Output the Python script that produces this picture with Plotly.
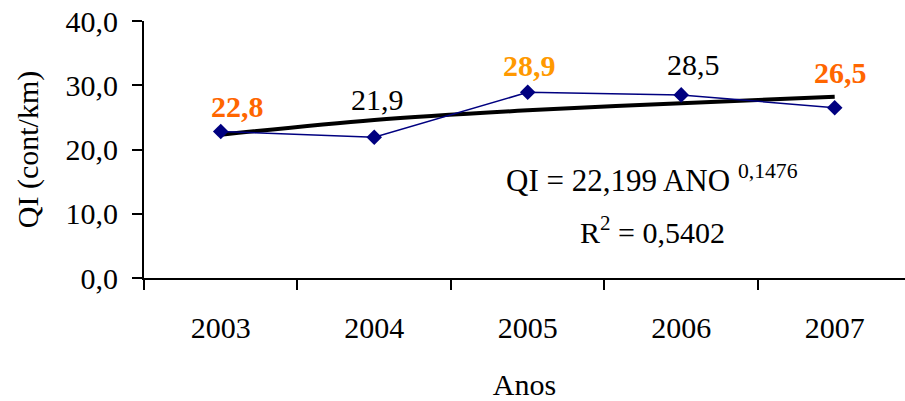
import plotly.graph_objects as go

years = ["2003", "2004", "2005", "2006", "2007"]
qi = [22.8, 21.9, 28.9, 28.5, 26.5]
trend = [22.3, 24.6, 26.1, 27.2, 28.2]
label_text = ["22,8", "21,9", "28,9", "28,5", "26,5"]
label_color = ["#FF6600", "#000000", "#FF9900", "#000000", "#FF6600"]
label_bold = [True, False, True, False, True]
label_dx = [17, 3, 2, 12, 6]
label_dy = [25, 38, 27, 30, 35]
y_ticks = [0, 10, 20, 30, 40]

FONT = "Times New Roman, Liberation Serif, serif"
FS = 30

fig = go.Figure()
fig.add_trace(go.Scatter(
    x=years, y=trend, mode="lines",
    line=dict(color="black", width=4, shape="spline"),
    hoverinfo="skip", showlegend=False))
fig.add_trace(go.Scatter(
    x=years, y=qi, mode="lines+markers",
    line=dict(color="#000080", width=1.5),
    marker=dict(symbol="diamond", size=12, color="#000080"),
    showlegend=False))

for i in range(len(years)):
    t = label_text[i]
    if label_bold[i]:
        t = "<b>" + t + "</b>"
    fig.add_annotation(x=i, y=qi[i], xref="x", yref="y", text=t, showarrow=False,
                       xanchor="center", yanchor="middle",
                       xshift=label_dx[i], yshift=label_dy[i],
                       font=dict(family=FONT, size=30, color=label_color[i]))

fig.add_annotation(xref="paper", yref="paper", x=0.6675, y=0.387,
                   xanchor="center", yanchor="middle",
                   text="QI = 22,199 ANO <sup>0,1476</sup>", showarrow=False,
                   font=dict(family=FONT, size=31, color="black"))
fig.add_annotation(xref="paper", yref="paper", x=0.668, y=0.185,
                   xanchor="center", yanchor="middle",
                   text="R<sup>2</sup> = 0,5402", showarrow=False,
                   font=dict(family=FONT, size=FS, color="black"))

fig.update_layout(
    width=905, height=401,
    margin=dict(l=144, r=0, t=21, b=123),
    paper_bgcolor="white", plot_bgcolor="white",
    separators=",.",
    font=dict(family=FONT, size=FS, color="black"),
)
fig.update_xaxes(
    type="category", range=[-0.5, 4.458], automargin=False,
    showline=True, linecolor="black", linewidth=2,
    ticks="outside", tickson="boundaries", ticklen=10, tickwidth=2, tickcolor="black",
    ticklabelstandoff=22,
    showgrid=False, zeroline=False,
    tickfont=dict(family=FONT, size=FS),
    title=dict(text="Anos", font=dict(family=FONT, size=FS), standoff=36),
)
fig.update_yaxes(
    range=[0, 40], tickvals=y_ticks, tickformat=".1f", automargin=False,
    showline=True, linecolor="black", linewidth=2,
    ticks="outside", ticklen=10, tickwidth=2, tickcolor="black",
    ticklabelstandoff=8,
    showgrid=False, zeroline=False,
    tickfont=dict(family=FONT, size=FS),
    title=dict(text="QI (cont/km)", font=dict(family=FONT, size=FS), standoff=18),
)

fig.write_html("out.html", config={"displayModeBar": False},
               post_script="document.body.style.margin='0';")
